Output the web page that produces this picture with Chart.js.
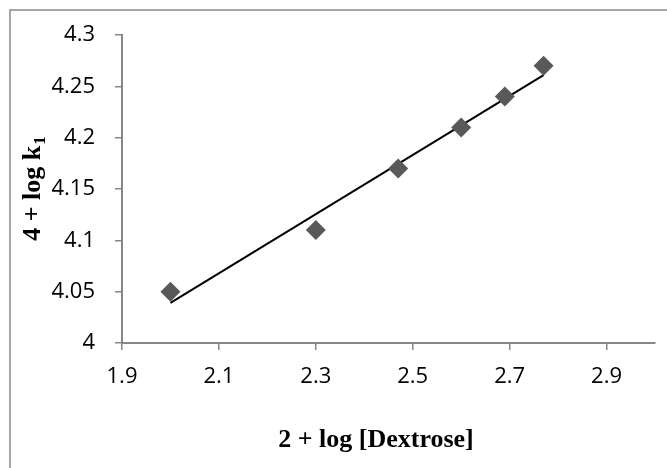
<!DOCTYPE html>
<html>
<head>
<meta charset="utf-8">
<script src="https://cdn.jsdelivr.net/npm/chart.js@4"></script>
<style>
  body { margin: 0; background: #fff; }
  #wrap { width: 667px; height: 468px; }
</style>
</head>
<body>
<div id="wrap"><canvas id="chartDextrose" width="667" height="468"></canvas></div>
<script>
// values
const dextrose = [2.0, 2.3, 2.47, 2.6, 2.69, 2.77];
const logK = [4.05, 4.11, 4.17, 4.21, 4.24, 4.27];
const trendX = [2.0, 2.77];
const trendY = [4.039, 4.261];
const xTicks = [1.9, 2.1, 2.3, 2.5, 2.7, 2.9];
const yTicks = [4, 4.05, 4.1, 4.15, 4.2, 4.25, 4.3];
const xTitle = '2 + log [Dextrose]';
const yTitle = '4 + log k';
const yTitleSub = '1';

const axisGrey = '#868686';
const tickFont = { family: 'Open Sans', size: 22 };

// outer frame + axis titles (y title has a subscript)
const extras = {
	id: 'extras',
	afterDraw: function(chart) {
		const ctx = chart.ctx;
		ctx.save();
		ctx.strokeStyle = '#a6a6a6';
		ctx.lineWidth = 2;
		ctx.strokeRect(10, 10, 700, 500);

		ctx.fillStyle = '#000';
		ctx.textBaseline = 'middle';
		ctx.textAlign = 'center';
		ctx.font = 'bold 26px "Liberation Serif"';
		ctx.fillText(xTitle, 376, 440);

		ctx.translate(31, 189);
		ctx.rotate(-Math.PI / 2);
		ctx.font = 'bold 26px "Liberation Serif"';
		const w1 = ctx.measureText(yTitle).width;
		ctx.font = 'bold 17px "Liberation Serif"';
		const w2 = ctx.measureText(yTitleSub).width;
		const start = -(w1 + w2) / 2;
		ctx.textAlign = 'left';
		ctx.textBaseline = 'alphabetic';
		ctx.font = 'bold 26px "Liberation Serif"';
		ctx.fillText(yTitle, start, 9);
		ctx.font = 'bold 17px "Liberation Serif"';
		ctx.fillText(yTitleSub, start + w1 + 1, 14);
		ctx.restore();
	}
};

const chartDextrose = new Chart(document.getElementById('chartDextrose').getContext('2d'), {
	type: 'scatter',
	data: {
		datasets: [
			{
				label: 'trend',
				type: 'line',
				data: trendX.map(function(x, i) { return { x: x, y: trendY[i] }; }),
				borderColor: '#000',
				borderWidth: 2,
				pointRadius: 0,
				fill: false,
				order: 2
			},
			{
				label: 'data',
				data: dextrose.map(function(x, i) { return { x: x, y: logK[i] }; }),
				pointStyle: 'rectRot',
				pointRadius: 10,
				backgroundColor: '#595959',
				borderColor: '#595959',
				borderWidth: 0,
				order: 1
			}
		]
	},
	options: {
		responsive: false,
		animation: false,
		layout: { padding: { left: 0, top: 35, right: 12, bottom: 0 } },
		plugins: {
			legend: { display: false },
			tooltip: { enabled: false }
		},
		scales: {
			x: {
				type: 'linear',
				min: 1.9,
				max: 3.0,
				afterBuildTicks: function(scale) {
					scale.ticks = xTicks.map(function(v) { return { value: v }; });
				},
				afterFit: function(scale) { scale.height = 125; },
				grid: {
					display: true,
					drawOnChartArea: false,
					drawTicks: true,
					tickLength: 7,
					color: axisGrey,
					lineWidth: 1.5
				},
				border: { color: axisGrey, width: 2 },
				ticks: {
					color: '#000',
					font: tickFont,
					padding: 14,
					maxRotation: 0,
					callback: function(v) { return String(Number(v.toFixed(2))); }
				}
			},
			y: {
				type: 'linear',
				min: 4,
				max: 4.3,
				afterBuildTicks: function(scale) {
					scale.ticks = yTicks.map(function(v) { return { value: v }; });
				},
				afterFit: function(scale) { scale.width = 122; },
				grid: {
					display: true,
					drawOnChartArea: false,
					drawTicks: true,
					tickLength: 7,
					color: axisGrey,
					lineWidth: 1.5
				},
				border: { color: axisGrey, width: 2 },
				ticks: {
					color: '#000',
					font: tickFont,
					padding: 20,
					callback: function(v) { return String(Number(v.toFixed(2))); }
				}
			}
		}
	},
	plugins: [extras]
});
</script>
</body>
</html>
